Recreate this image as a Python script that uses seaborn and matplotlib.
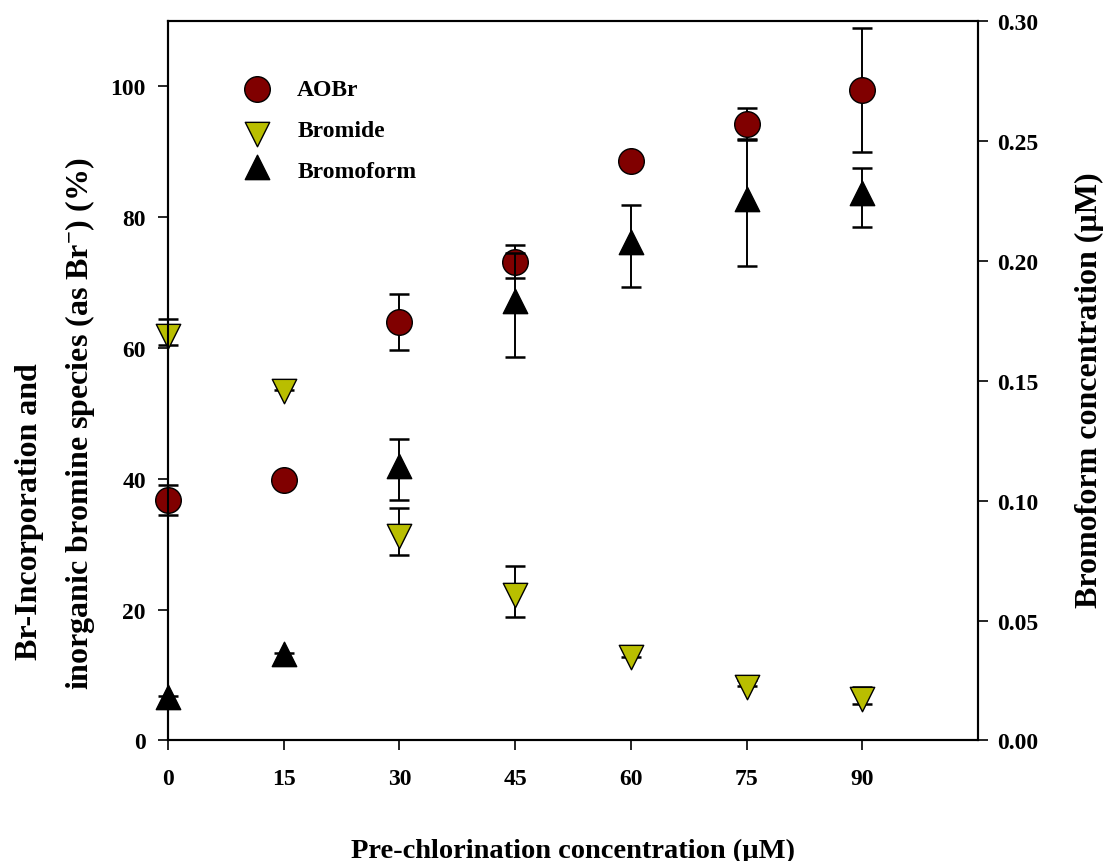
import matplotlib
matplotlib.use("Agg")
import matplotlib.pyplot as plt
from matplotlib.path import Path
from matplotlib.markers import MarkerStyle
from matplotlib.ticker import FormatStrFormatter
import pandas as pd
import seaborn as sns

# Pre-chlorination dose (µM)
dose = [0, 15, 30, 45, 60, 75, 90]

# Br incorporation into AOBr (% of initial Br-)
aobr = [36.8, 39.8, 64.0, 73.2, 88.6, 94.3, 99.5]
aobr_sd = [2.3, 0.0, 4.25, 2.5, 0.0, 2.4, 9.5]

# Residual bromide (% of initial Br-)
bromide = [62.5, 54.1, 31.9, 22.8, 13.4, 8.8, 6.9]
bromide_sd = [2.0, 0.5, 3.6, 3.95, 0.6, 0.5, 1.3]

# Bromoform formed (µM)
bromoform = [0.0164, 0.0344, 0.1129, 0.1816, 0.2062, 0.2242, 0.2266]
bromoform_sd = [0.0023, 0.0020, 0.0128, 0.0218, 0.0172, 0.0262, 0.0123]

x_ticks = [0, 15, 30, 45, 60, 75, 90]
left_ticks = [0, 20, 40, 60, 80, 100]
right_ticks = [0.00, 0.05, 0.10, 0.15, 0.20, 0.25, 0.30]

df = pd.DataFrame({"dose": dose, "aobr": aobr, "aobr_sd": aobr_sd,
                   "bromide": bromide, "bromide_sd": bromide_sd,
                   "bromoform": bromoform, "bromoform_sd": bromoform_sd})

sns.set_theme(style="ticks")
plt.rcParams.update({
    "font.family": ["Liberation Serif", "DejaVu Serif"],
    "font.weight": "bold",
    "axes.labelweight": "bold",
    "text.color": "black",
    "axes.labelcolor": "black",
    "mathtext.fontset": "custom",
    "mathtext.rm": "Liberation Serif:bold",
    "mathtext.bf": "Liberation Serif:bold",
    "mathtext.it": "Liberation Serif:bold",
    "mathtext.default": "rm",
    "axes.linewidth": 1.5,
    "xtick.major.width": 1.2,
    "ytick.major.width": 1.2,
    "xtick.major.size": 7,
    "ytick.major.size": 7,
    "xtick.direction": "out",
    "ytick.direction": "out",
    "xtick.color": "black",
    "ytick.color": "black",
    "axes.edgecolor": "black",
})

# triangles centred on their centroid
tri_up = MarkerStyle(Path([(0, 2), (-1.5, -1), (1.5, -1), (0, 2)], closed=True))
tri_down = MarkerStyle(Path([(0, -2), (-1.5, 1), (1.5, 1), (0, -2)], closed=True))

fig = plt.figure(figsize=(11.07, 8.62), dpi=100)
ax = fig.add_axes([0.1518, 0.1398, 0.7317, 0.8347])
ax2 = ax.twinx()

err_kw = dict(fmt="none", ecolor="black", elinewidth=1.4, capsize=7.5,
              capthick=1.8, zorder=2, clip_on=False)

ax.errorbar(df["dose"], df["aobr"], yerr=df["aobr_sd"], **err_kw)
ax.errorbar(df["dose"], df["bromide"], yerr=df["bromide_sd"], **err_kw)
sns.scatterplot(data=df, x="dose", y="aobr", ax=ax, marker="o", s=340,
                color="#800000", edgecolor="black", linewidth=1.0,
                label="AOBr", zorder=3, legend=False, clip_on=False)
sns.scatterplot(data=df, x="dose", y="bromide", ax=ax, marker=tri_down, s=550,
                color="#B9BE00", edgecolor="black", linewidth=1.0,
                label="Bromide", zorder=3, legend=False, clip_on=False)

ax2.errorbar(df["dose"], df["bromoform"], yerr=df["bromoform_sd"], **err_kw)
sns.scatterplot(data=df, x="dose", y="bromoform", ax=ax2, marker=tri_up, s=550,
                color="black", edgecolor="black", linewidth=1.0,
                label="Bromoform", zorder=3, legend=False, clip_on=False)

ax.set_xlim(0, 105)
ax.set_ylim(0, 110)
ax2.set_ylim(0, 0.30)
ax.set_xticks(x_ticks)
ax.set_yticks(left_ticks)
ax2.set_yticks(right_ticks)
ax2.yaxis.set_major_formatter(FormatStrFormatter("%.2f"))

ax.tick_params(axis="x", labelsize=17, pad=13)
ax.tick_params(axis="y", labelsize=17, pad=9)
ax2.tick_params(axis="y", labelsize=17, pad=7)
for a in (ax, ax2):
    for sp in a.spines.values():
        sp.set_visible(True)
        sp.set_linewidth(1.5)
        sp.set_color("black")
    for lab in a.get_xticklabels() + a.get_yticklabels():
        lab.set_fontweight("bold")

ax.set_xlabel("")
ax.set_ylabel("")
ax2.set_ylabel("")

fig.text(0.5176, 0.0046, "Pre-chlorination concentration (µM)", fontsize=20.5,
         fontweight="bold", ha="center", va="baseline")
fig.text(0.0271, 0.2343, "Br-Incorporation and", fontsize=23,
         fontweight="bold", rotation=90, ha="center", va="bottom")
fig.text(0.0723, 0.1995, r"inorganic bromine species (as Br$^{-}$) (%)",
         fontsize=23, fontweight="bold", rotation=90, ha="center", va="bottom")
fig.text(0.9846, 0.5476, "Bromoform concentration (µM)", fontsize=23,
         fontweight="bold", rotation=90, ha="center", va="center")

h1, l1 = ax.get_legend_handles_labels()
h2, l2 = ax2.get_legend_handles_labels()
leg = ax2.legend(h1 + h2, l1 + l2, loc="upper left",
                 bbox_to_anchor=(0.0778, 0.936), frameon=False, borderpad=0,
                 handlelength=1.2, handletextpad=1.1, labelspacing=0.82,
                 prop={"family": "Liberation Serif", "weight": "bold", "size": 17})

fig.savefig("out.png", dpi=100)
